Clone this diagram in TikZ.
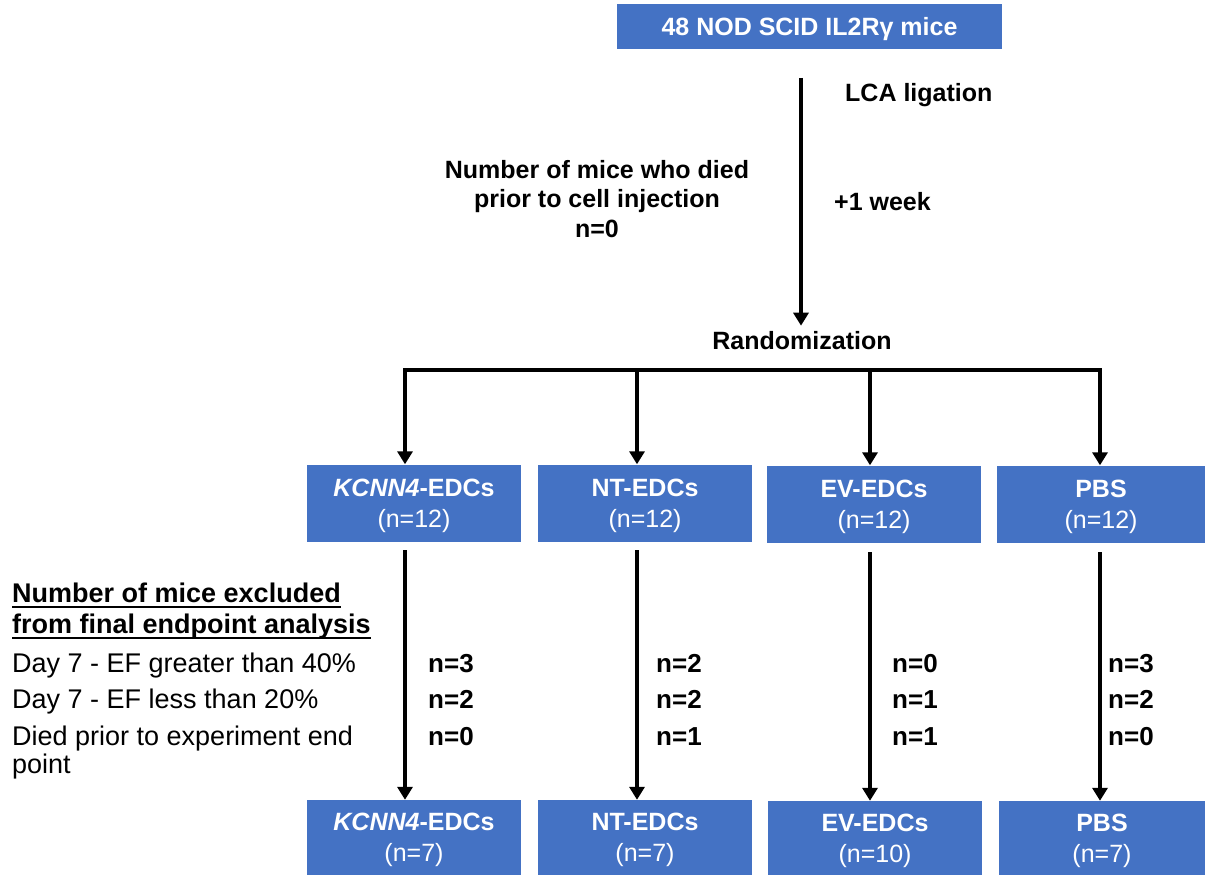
\documentclass[tikz,border=0pt]{standalone}
\usepackage{fontspec}
\setmainfont{Liberation Sans}
\usetikzlibrary{arrows.meta}
\definecolor{boxblue}{RGB}{68,114,196}
\newcommand{\bsize}{\fontsize{25}{31}\selectfont}
\newcommand{\lsize}{\fontsize{27}{32}\selectfont}

\begin{document}
\begin{tikzpicture}[x=1pt,y=-1pt,
                grp/.style={fill=boxblue,text=white,align=center,inner sep=0pt,text depth=0pt,minimum width=214pt,minimum height=77pt,font=\bsize},
                arr/.style={line width=4.8pt,-{Triangle[width=15pt,length=13pt]}},
                txt/.style={anchor=base west,inner sep=0pt,font=\lsize},
                num/.style={anchor=base west,inner sep=0pt,font=\bfseries\fontsize{26}{31}\selectfont},
                lab/.style={inner sep=0pt,font=\bfseries\bsize}]
                \useasboundingbox (0,0) rectangle (1205,875);
                \node[grp,minimum width=385pt,minimum height=45pt,font=\bfseries\bsize] (mice) at (809.5,26.5) {48 NOD SCID IL2Rγ mice};
                \node[lab,anchor=base west] (lca) at (845,102) {LCA ligation};
                \node[lab,anchor=base west] (week) at (834,210) {+1 week};
                \node[lab,anchor=base] (died1) at (597,178) {Number of mice who died};
                \node[lab,anchor=base] (died2) at (597,207) {prior to cell injection};
                \node[lab,anchor=base] (died3) at (597,237) {n=0};
                \node[lab,anchor=base,inner sep=5pt] (rand) at (802,349) {Randomization};
                \coordinate (lig) at (801,78);
                \draw[arr] (lig) -- (lig |- rand.north);
                \node[grp] (kc1) at (414,503) {\textbf{\textit{KCNN4}-EDCs}\\(n=12)};
                \node[grp] (nt1) at (645,503) {\textbf{NT-EDCs}\\(n=12)};
                \node[grp] (ev1) at (874,504) {\textbf{EV-EDCs}\\(n=12)};
                \node[grp,minimum width=208pt] (pbs1) at (1101,504) {\textbf{PBS}\\(n=12)};
                \coordinate (b1) at (405,370);
                \coordinate (b2) at (637,370);
                \coordinate (b3) at (870,370);
                \coordinate (b4) at (1100,370);
                \draw[arr] (b4) -- (b1) -- (b1 |- kc1.north);
                \draw[arr] (b1) -- (b4) -- (b4 |- pbs1.north);
                \draw[arr] (b2) -- (b2 |- nt1.north);
                \draw[arr] (b3) -- (b3 |- ev1.north);
                \node[grp,minimum height=75pt] (kc2) at (414,837.5) {\textbf{\textit{KCNN4}-EDCs}\\(n=7)};
                \node[grp,minimum height=75pt] (nt2) at (645,837.5) {\textbf{NT-EDCs}\\(n=7)};
                \node[grp,minimum height=75pt] (ev2) at (875,838.5) {\textbf{EV-EDCs}\\(n=10)};
                \node[grp,minimum height=75pt,minimum width=206pt] (pbs2) at (1102,838.5) {\textbf{PBS}\\(n=7)};
                \coordinate (d1) at (405,550);
                \coordinate (d2) at (637,550);
                \coordinate (d3) at (870,552);
                \coordinate (d4) at (1100,552);
                \draw[arr] (d1) -- (d1 |- kc2.north);
                \draw[arr] (d2) -- (d2 |- nt2.north);
                \draw[arr] (d3) -- (d3 |- ev2.north);
                \draw[arr] (d4) -- (d4 |- pbs2.north);
                \node[txt,font=\bfseries\lsize] (exc1) at (12,602) {Number of mice excluded};
                \node[txt,font=\bfseries\lsize] (exc2) at (12,633) {from final endpoint analysis};
                \draw[line width=2pt] ([yshift=-5pt]exc1.base west) -- ([yshift=-5pt]exc1.base east);
                \draw[line width=2pt] ([yshift=-5pt]exc2.base west) -- ([yshift=-5pt]exc2.base east);
                \node[txt] (day1) at (12,672) {Day 7 - EF greater than 40\%};
                \node[txt] (day2) at (12,708) {Day 7 - EF less than 20\%};
                \node[txt] (end1) at (12,745) {Died prior to experiment end};
                \node[txt] (end2) at (12,773) {point};
                \node[num] (kx1) at (428,672) {n=3};
                \node[num] (kx2) at (428,708) {n=2};
                \node[num] (kx3) at (428,745) {n=0};
                \node[num] (ntx1) at (656,672) {n=2};
                \node[num] (ntx2) at (656,708) {n=2};
                \node[num] (ntx3) at (656,745) {n=1};
                \node[num] (evx1) at (892,672) {n=0};
                \node[num] (evx2) at (892,708) {n=1};
                \node[num] (evx3) at (892,745) {n=1};
                \node[num] (pbx1) at (1108,672) {n=3};
                \node[num] (pbx2) at (1108,708) {n=2};
                \node[num] (pbx3) at (1108,745) {n=0};
            \end{tikzpicture}
\end{document}
